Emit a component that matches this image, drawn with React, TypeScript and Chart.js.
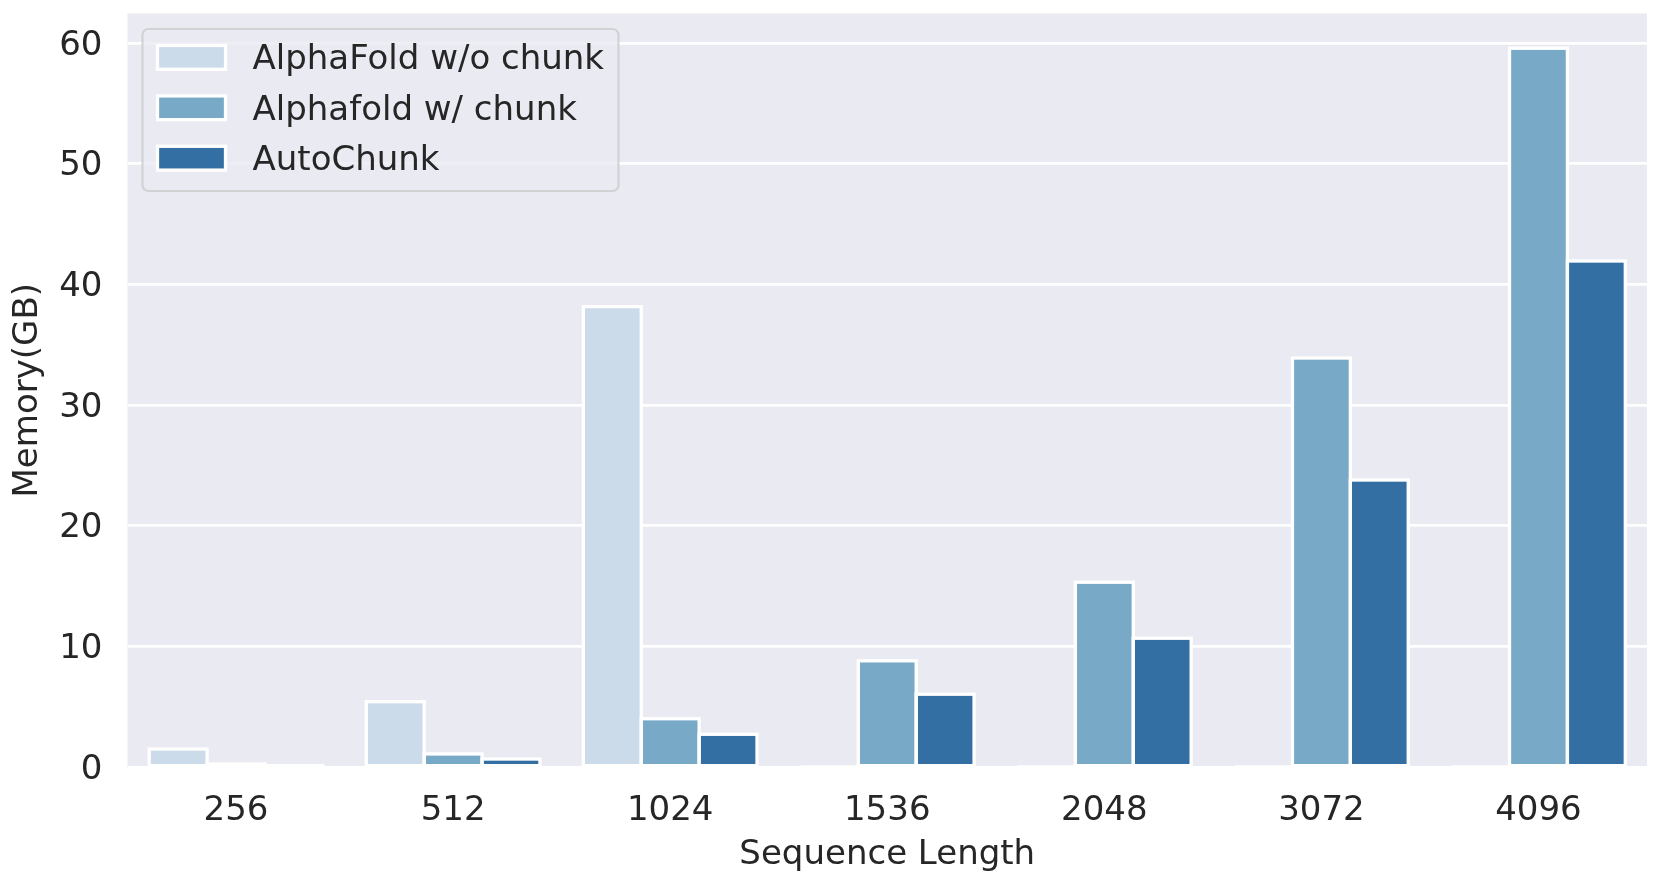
import React, { useEffect, useRef } from "react";
import { Chart, registerables } from "chart.js";

Chart.register(...registerables);

const categories = ["256", "512", "1024", "1536", "2048", "3072", "4096"];
const seriesLabels = ["AlphaFold w/o chunk", "Alphafold w/ chunk", "AutoChunk"];
const withoutChunk = [1.49, 5.41, 38.15, 0, 0, 0, 0];
const withChunk = [0.25, 1.08, 4.0, 8.8, 15.31, 33.89, 59.56];
const autoChunk = [0.11, 0.66, 2.71, 6.03, 10.67, 23.78, 41.93];
const yTicks = [0, 10, 20, 30, 40, 50, 60];
const seriesColors = ["#cbdbea", "#78aac8", "#336fa2"];

const FONT = "'DejaVu Sans', sans-serif";
const TEXT = "#262626";
const FS = 34;
const EDGE = 3.3;

const edgePlugin = {
  id: "barEdges",
  afterDatasetsDraw(chart: any) {
    const { ctx, chartArea } = chart;
    ctx.save();
    ctx.beginPath();
    ctx.rect(chartArea.left, chartArea.top, chartArea.right - chartArea.left, chartArea.bottom - chartArea.top);
    ctx.clip();
    ctx.strokeStyle = "#ffffff";
    ctx.lineWidth = EDGE;
    chart.data.datasets.forEach((_: any, di: number) => {
      const meta = chart.getDatasetMeta(di);
      meta.data.forEach((el: any) => {
        const p = el.getProps(["x", "y", "base", "width"], true);
        ctx.strokeRect(p.x - p.width / 2, p.y, p.width, p.base - p.y);
      });
    });
    ctx.restore();
  },
};

const legendPlugin = {
  id: "innerLegend",
  afterDraw(chart: any) {
    const ctx = chart.ctx;
    const area = chart.chartArea;
    const x = area.left + 15;
    const y = area.top + 15.5;
    const w = 476;
    const h = 162;
    const r = 6;
    ctx.save();
    ctx.beginPath();
    ctx.moveTo(x + r, y);
    ctx.lineTo(x + w - r, y);
    ctx.arcTo(x + w, y, x + w, y + r, r);
    ctx.lineTo(x + w, y + h - r);
    ctx.arcTo(x + w, y + h, x + w - r, y + h, r);
    ctx.lineTo(x + r, y + h);
    ctx.arcTo(x, y + h, x, y + h - r, r);
    ctx.lineTo(x, y + r);
    ctx.arcTo(x, y, x + r, y, r);
    ctx.closePath();
    ctx.fillStyle = "rgba(234,234,242,0.8)";
    ctx.fill();
    ctx.lineWidth = 2.2;
    ctx.strokeStyle = "rgba(204,204,204,0.8)";
    ctx.stroke();
    chart.data.datasets.forEach((ds: any, i: number) => {
      const cy = y + 28.5 + i * 50.4;
      ctx.fillStyle = ds.backgroundColor;
      ctx.fillRect(x + 15, cy - 12, 68, 23.8);
      ctx.lineWidth = EDGE;
      ctx.strokeStyle = "#ffffff";
      ctx.strokeRect(x + 15, cy - 12, 68, 23.8);
      ctx.fillStyle = TEXT;
      ctx.font = `${FS}px ${FONT}`;
      ctx.textBaseline = "middle";
      ctx.textAlign = "left";
      ctx.fillText(ds.label, x + 110, cy + 3);
    });
    ctx.restore();
  },
};

const bgPlugin = {
  id: "plotBg",
  beforeDraw(chart: any) {
    const { ctx, chartArea } = chart;
    ctx.save();
    ctx.fillStyle = "#ffffff";
    ctx.fillRect(0, 0, chart.width, chart.height);
    ctx.fillStyle = "#eaeaf2";
    ctx.fillRect(chartArea.left, chartArea.top, chartArea.right - chartArea.left, chartArea.bottom - chartArea.top);
    ctx.restore();
  },
};

export default function App() {
  const ref = useRef<HTMLCanvasElement | null>(null);
  useEffect(() => {
    if (!ref.current) return;
    const series = [withoutChunk, withChunk, autoChunk];
    const chart = new Chart(ref.current, {
      type: "bar",
      data: {
        labels: categories,
        datasets: series.map((d, i) => ({
          label: seriesLabels[i],
          data: d,
          backgroundColor: seriesColors[i],
          borderWidth: 0,
          categoryPercentage: 0.8,
          barPercentage: 1.0,
        })),
      },
      options: {
        animation: false,
        responsive: false,
        devicePixelRatio: 1,
        layout: { padding: { top: 13.5, right: 14, left: 0, bottom: 0 } },
        plugins: { legend: { display: false }, tooltip: { enabled: false } },
        scales: {
          x: {
            grid: { display: false, drawTicks: false },
            border: { display: false },
            ticks: { color: TEXT, font: { family: FONT, size: FS }, padding: 24 },
            title: {
              display: true,
              text: "Sequence Length",
              color: TEXT,
              font: { family: FONT, size: FS },
              padding: { top: 0, bottom: 8 },
            },
            afterFit: (s: any) => {
              s.height = 117;
              s.paddingLeft = 0;
              s.paddingRight = 0;
            },
          },
          y: {
            min: 0,
            max: 62.44,
            grid: { color: "#ffffff", lineWidth: 2.7, drawTicks: false },
            border: { display: false },
            afterBuildTicks: (s: any) => {
              s.ticks = yTicks.map((v) => ({ value: v }));
            },
            ticks: { color: TEXT, font: { family: FONT, size: FS }, padding: 25, includeBounds: false, labelOffset: 3 },
            title: {
              display: true,
              text: "Memory(GB)",
              color: TEXT,
              font: { family: FONT, size: FS },
              padding: { top: 8, bottom: 0 },
            },
            afterFit: (s: any) => {
              s.width = 127.5;
              s.paddingTop = 0;
              s.paddingBottom = 0;
            },
          },
        },
      },
      plugins: [bgPlugin, edgePlugin, legendPlugin],
    });
    return () => chart.destroy();
  }, []);
  return (
    <div style={{ position: "absolute", left: 0, top: 0, width: 1661, height: 884, background: "#fff" }}>
      <canvas ref={ref} width={1661} height={884} />
    </div>
  );
}
